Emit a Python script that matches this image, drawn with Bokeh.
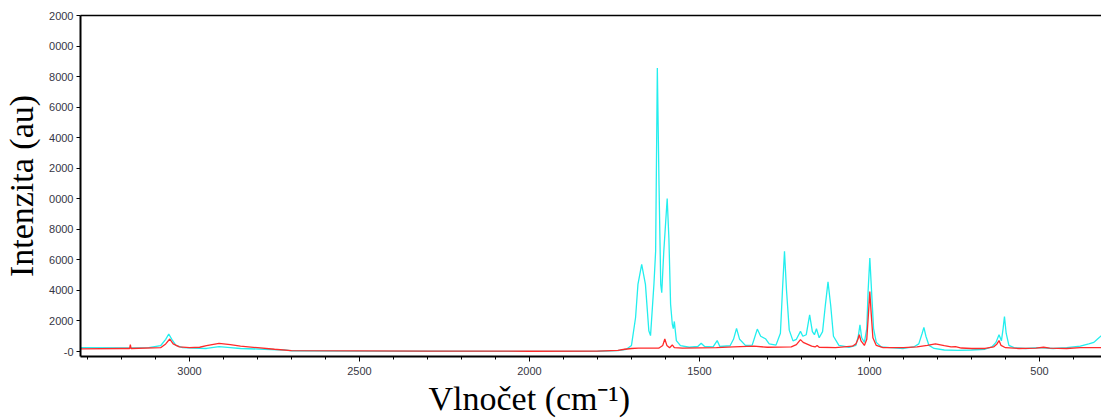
from bokeh.plotting import figure
from bokeh.models import Range1d, FixedTicker, LinearAxis, Title
from bokeh.embed import file_html
from bokeh.resources import INLINE

# ---- data ----
cyan_wn = [3320, 3200, 3120, 3085, 3070, 3061, 3052, 3040, 3020, 2990, 2950, 2913, 2880, 2850,
           2780, 2720, 2700, 2500, 2300, 2000, 1800, 1740, 1715, 1700, 1688, 1681, 1670, 1659,
           1649, 1644, 1634, 1629, 1624, 1619, 1614, 1611, 1605, 1595, 1590, 1585, 1580, 1577,
           1574, 1568, 1556, 1530, 1505, 1495, 1485, 1460, 1448, 1440, 1410, 1400, 1391, 1382,
           1365, 1345, 1338, 1330, 1320, 1306, 1295, 1275, 1262, 1256, 1250, 1244, 1236, 1225,
           1215, 1203, 1196, 1186, 1176, 1168, 1162, 1156, 1148, 1138, 1130, 1122, 1114, 1106,
           1090, 1060, 1040, 1033, 1028, 1023, 1015, 1008, 1004, 999, 994, 988, 980, 965, 940,
           900, 870, 855, 845, 840, 834, 825, 810, 780, 740, 700, 660, 640, 628, 619, 612, 607,
           603, 598, 590, 575, 540, 500, 460, 420, 380, 355, 340, 330, 318]
cyan_int = [250, 240, 260, 380, 800, 1150, 800, 400, 250, 220, 200, 320, 260, 200,
            150, 100, 50, 30, 20, 10, 20, 60, 150, 400, 2230, 4400, 5700, 4400,
            1360, 1040, 4400, 6560, 18570, 10890, 4400, 3850, 6560, 10020, 7420, 3100, 1800, 1500,
            1970, 714, 390, 280, 330, 540, 330, 300, 714, 330, 380, 800, 1515, 800,
            400, 420, 900, 1470, 1000, 840, 500, 420, 1200, 4000, 6560, 4000, 1400, 700,
            800, 1320, 1000, 1100, 2400, 1300, 1100, 1490, 900, 1300, 3000, 4560, 3000, 1000,
            400, 280, 400, 1000, 1750, 900, 600, 1500, 4000, 6120, 4000, 1500, 600, 300, 250,
            200, 300, 500, 1200, 1580, 1000, 400, 200, 100, 80, 100, 150, 300, 600, 1100, 700, 1500,
            2290, 1200, 400, 250, 200, 250, 200, 250, 350, 500, 600, 800, 1040]

red_wn = [3320, 3200, 3176, 3174, 3172, 3085, 3070, 3058, 3048, 3030, 3000, 2970, 2950, 2913,
          2880, 2850, 2800, 2750, 2700, 2500, 2300, 2000, 1800, 1740, 1720, 1700, 1680, 1620,
          1608, 1602, 1596, 1588, 1580, 1574, 1550, 1450, 1400, 1340, 1300, 1230, 1215, 1203,
          1195, 1180, 1170, 1160, 1154, 1148, 1100, 1050, 1040, 1034, 1030, 1025, 1015, 1008,
          1003, 999, 995, 990, 980, 960, 900, 860, 830, 806, 780, 760, 747, 730, 700, 660,
          635, 625, 619, 613, 600, 560, 510, 488, 470, 420, 380, 318]
red_int = [180, 200, 200, 450, 200, 250, 500, 820, 500, 300, 250, 280, 380, 540,
           450, 350, 250, 150, 60, 40, 30, 20, 30, 80, 150, 200, 220, 220,
           400, 820, 400, 250, 430, 250, 220, 250, 300, 350, 280, 300, 450, 780,
           600, 450, 350, 300, 390, 280, 250, 350, 500, 800, 1100, 700, 400, 800,
           2500, 3920, 2500, 900, 400, 250, 250, 300, 400, 500, 380, 300, 325, 230, 200, 200,
           300, 500, 715, 400, 250, 200, 220, 280, 220, 200, 250, 250]

x_major = [3000, 2500, 2000, 1500, 1000, 500]
x_labels = ["3000", "2500", "2000", "1500", "1000", "500"]
y_major = [0, 2000, 4000, 6000, 8000, 10000, 12000, 14000, 16000, 18000, 20000, 22000]
y_labels = ["-0", "2000", "4000", "6000", "8000", "0000", "2000", "4000", "6000", "8000", "0000", "2000"]

x_title = "Vlnočet (cm⁻¹)"
y_title = "Intenzita (au)"

# ---- figure ----
p = figure(width=1101, height=420, output_backend="svg", toolbar_location=None,
           x_range=Range1d(3320.6, 317.6), y_range=Range1d(-325, 22000),
           min_border_left=80, min_border_right=0, min_border_top=15, min_border_bottom=64,
           background_fill_color="white", border_fill_color="white")
p.outline_line_color = None
p.xgrid.visible = False
p.ygrid.visible = False

p.line(cyan_wn, cyan_int, line_color="#22eeee", line_width=1.3)
p.line(red_wn, red_int, line_color="#ff2a2a", line_width=1.3)

tick_color = "#363644"
xa = p.xaxis[0]
xa.ticker = FixedTicker(ticks=x_major, minor_ticks=list(range(3300, 300, -100)))
xa.major_label_overrides = {t: l for t, l in zip(x_major, x_labels)}
xa.axis_line_width = 2
xa.axis_line_color = "black"
xa.major_tick_out = 5
xa.major_tick_in = 0
xa.minor_tick_out = 3
xa.minor_tick_in = 0
xa.major_label_standoff = 5
xa.major_label_text_font = "Liberation Sans"
xa.major_label_text_font_size = "11px"
xa.major_label_text_color = tick_color

ya = p.yaxis[0]
ya.ticker = FixedTicker(ticks=y_major)
ya.major_label_overrides = {t: l for t, l in zip(y_major, y_labels)}
ya.axis_line_width = 2
ya.axis_line_color = "black"
ya.major_tick_out = 4
ya.major_tick_in = 0
ya.minor_tick_line_color = None
ya.major_label_standoff = 3
ya.major_label_text_font = "Liberation Sans"
ya.major_label_text_font_size = "11px"
ya.major_label_text_color = tick_color
ya.axis_label = y_title
ya.axis_label_text_font = "Liberation Serif"
ya.axis_label_text_font_style = "normal"
ya.axis_label_text_font_size = "34px"
ya.axis_label_text_color = "black"
ya.axis_label_standoff = 6

top = LinearAxis(ticker=FixedTicker(ticks=[]), major_tick_line_color=None,
                 minor_tick_line_color=None, axis_line_width=1.5,
                 axis_line_color="black", major_label_standoff=0)
p.add_layout(top, "above")

xt = Title(text=x_title, align="left", offset=348, text_font="Liberation Serif",
           text_font_size="34px", text_font_style="normal", text_color="black",
           standoff=0)
p.add_layout(xt, "below")

open("out.html", "w").write(file_html(p, INLINE))
